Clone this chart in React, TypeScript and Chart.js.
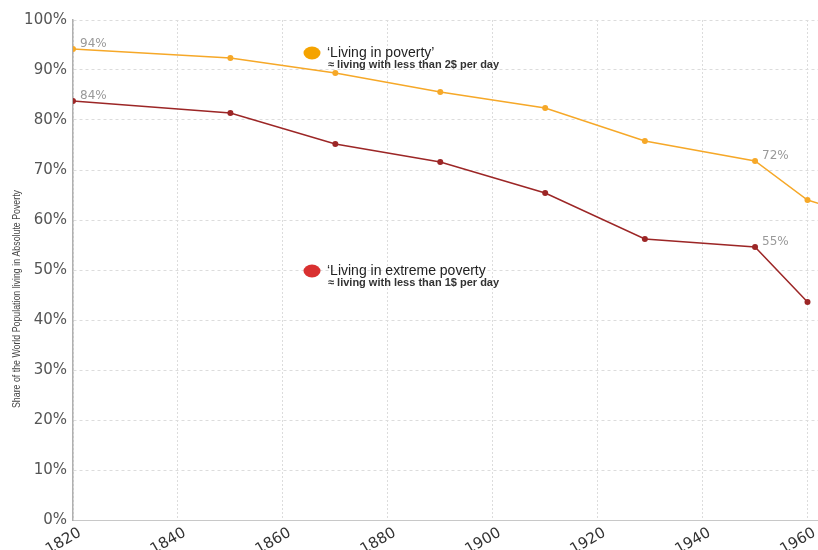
import React, { useEffect, useRef } from 'react';
import { Chart, registerables } from 'chart.js';

Chart.register(...registerables);

// ---- Data ----
const povertyYears = [1820, 1850, 1870, 1890, 1910, 1929, 1950, 1960, 1970];
const povertyValues = [94.2, 92.4, 89.4, 85.6, 82.4, 75.8, 71.8, 64.0, 60.8];
const extremeYears = [1820, 1850, 1870, 1890, 1910, 1929, 1950, 1960];
const extremeValues = [83.8, 81.4, 75.2, 71.6, 65.4, 56.2, 54.6, 43.6];
const xTickValues = [1820, 1840, 1860, 1880, 1900, 1920, 1940, 1960];
const yTickValues = [0, 10, 20, 30, 40, 50, 60, 70, 80, 90, 100];
const povertyLabelYears = [1820, 1950];
const povertyLabelTexts = ['94%', '72%'];
const extremeLabelYears = [1820, 1950];
const extremeLabelTexts = ['84%', '55%'];
const povertyTitle = '\u2018Living in poverty\u2019';
const povertySub = '\u2248 living with less than 2$ per day';
const extremeTitle = '\u2018Living in extreme poverty';
const extremeSub = '\u2248 living with less than 1$ per day';
const yAxisTitle = 'Share of the World Population living in Absolute Poverty';

const ORANGE = '#f6a828';
const RED = '#9c2626';

const annotationPlugin = {
  id: 'annotations',
  afterDatasetsDraw(chart: any) {
    const { ctx, scales, chartArea } = chart;
    const xs = scales.x;
    const ys = scales.y;
    ctx.save();
    // data labels
    ctx.font = '12px "DejaVu Sans"';
    ctx.fillStyle = '#999';
    ctx.textAlign = 'left';
    ctx.textBaseline = 'middle';
    const drawLabels = (years: number[], texts: string[], valYears: number[], vals: number[]) => {
      years.forEach((yr, i) => {
        const idx = valYears.indexOf(yr);
        const px = xs.getPixelForValue(yr);
        const py = ys.getPixelForValue(vals[idx]);
        ctx.fillText(texts[i], px + 7, py - 5);
      });
    };
    drawLabels(povertyLabelYears, povertyLabelTexts, povertyYears, povertyValues);
    drawLabels(extremeLabelYears, extremeLabelTexts, extremeYears, extremeValues);

    // legend annotations
    const drawLegend = (cx: number, cy: number, color: string, title: string, sub: string) => {
      ctx.fillStyle = color;
      ctx.beginPath();
      ctx.ellipse(cx, cy, 8.5, 6.5, 0, 0, Math.PI * 2);
      ctx.fill();
      ctx.fillStyle = '#222';
      ctx.textAlign = 'left';
      ctx.textBaseline = 'middle';
      ctx.font = '14px "Liberation Sans", Arial, sans-serif';
      ctx.fillText(title, cx + 15, cy);
      ctx.fillStyle = '#333';
      ctx.font = 'bold 11px "Liberation Sans", Arial, sans-serif';
      ctx.fillText(sub, cx + 16, cy + 12);
    };
    drawLegend(chartArea.left + 239, chartArea.top + 33, '#f5a300', povertyTitle, povertySub);
    drawLegend(chartArea.left + 239, chartArea.top + 251, '#d93030', extremeTitle, extremeSub);

    ctx.restore();

    // y axis title (condensed)
    ctx.save();
    ctx.font = '10px "Liberation Sans", Arial, sans-serif';
    ctx.fillStyle = '#444';
    ctx.textAlign = 'center';
    ctx.textBaseline = 'middle';
    const w = ctx.measureText(yAxisTitle).width;
    ctx.translate(17, 299);
    ctx.rotate(-Math.PI / 2);
    ctx.scale(218 / w, 1);
    ctx.fillText(yAxisTitle, 0, 0);
    ctx.restore();
  },
};

export default function App() {
  const canvasRef = useRef<HTMLCanvasElement | null>(null);

  useEffect(() => {
    const canvas = canvasRef.current;
    if (!canvas) return;
    const chart = new Chart(canvas, {
      type: 'line',
      data: {
        datasets: [
          {
            label: 'Living in poverty',
            data: povertyYears.map((y, i) => ({ x: y, y: povertyValues[i] })),
            borderColor: ORANGE,
            backgroundColor: ORANGE,
            borderWidth: 1.5,
            pointRadius: 3,
            pointBorderWidth: 0,
            tension: 0,
          },
          {
            label: 'Living in extreme poverty',
            data: extremeYears.map((y, i) => ({ x: y, y: extremeValues[i] })),
            borderColor: RED,
            backgroundColor: RED,
            borderWidth: 1.5,
            pointRadius: 3,
            pointBorderWidth: 0,
            tension: 0,
          },
        ],
      },
      options: {
        responsive: false,
        animation: false,
        layout: { autoPadding: false, padding: { top: 20, right: 0, left: 0, bottom: 0 } },
        plugins: {
          legend: { display: false },
          tooltip: { enabled: false },
        },
        scales: {
          x: {
            type: 'linear',
            min: 1820,
            max: 1962,
            afterBuildTicks: (scale: any) => {
              scale.ticks = xTickValues.map((v) => ({ value: v }));
            },
            afterFit: (scale: any) => {
              scale.height = 30;
              scale.paddingLeft = 0;
              scale.paddingRight = 0;
            },
            ticks: {
              minRotation: 30,
              maxRotation: 30,
              autoSkip: false,
              padding: 4,
              labelOffset: 7,
              color: '#333',
              font: { family: '"DejaVu Sans"', size: 15 },
              callback: (v: any) => String(v),
            },
            grid: { color: '#dcdcdc', drawTicks: false, lineWidth: 1 },
            border: { display: true, color: '#c8c8c8', width: 1, dash: [2, 2] },
          },
          y: {
            type: 'linear',
            min: 0,
            max: 100,
            afterBuildTicks: (scale: any) => {
              scale.ticks = yTickValues.map((v) => ({ value: v }));
            },
            afterFit: (scale: any) => {
              scale.width = 73;
              scale.paddingTop = 0;
              scale.paddingBottom = 0;
            },
            ticks: {
              padding: 6,
              color: '#555',
              font: { family: '"DejaVu Sans"', size: 15 },
              callback: (v: any) => v + '%',
            },
            grid: { color: '#dcdcdc', drawTicks: false, lineWidth: 1 },
            border: { display: true, color: '#b0b0b0', width: 1.5, dash: [3, 3] },
          },
        },
      },
      plugins: [annotationPlugin],
    } as any);
    return () => chart.destroy();
  }, []);

  return (
    <div style={{ position: 'fixed', left: 0, top: 0, width: 818, height: 550, background: '#fff' }}>
      <canvas ref={canvasRef} width={818} height={550} style={{ width: 818, height: 550, display: 'block' }} />
    </div>
  );
}
